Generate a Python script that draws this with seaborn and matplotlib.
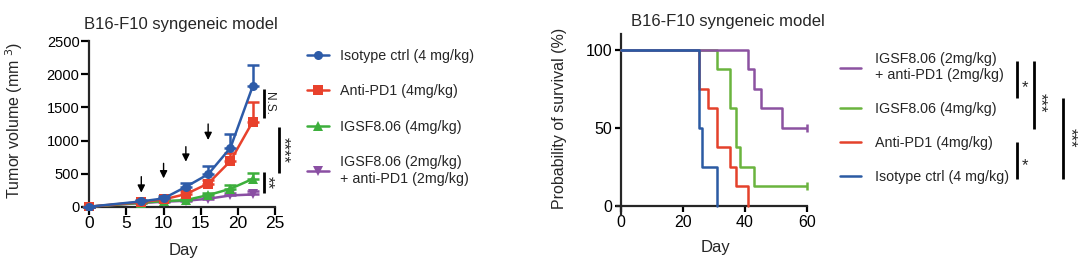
import matplotlib
matplotlib.use("Agg")
import matplotlib.pyplot as plt
import seaborn as sns
import pandas as pd
import numpy as np

# ---------------- data ----------------
days = [0, 7, 10, 13, 16, 19, 22]
groups = ["Isotype ctrl (4 mg/kg)", "Anti-PD1 (4mg/kg)", "IGSF8.06 (4mg/kg)",
          "IGSF8.06 (2mg/kg)\n+ anti-PD1 (2mg/kg)"]
iso_mean = [0, 80, 125, 300, 490, 890, 1820]
iso_err = [0, 25, 30, 60, 125, 215, 320]
pd1_mean = [0, 70, 110, 190, 350, 690, 1285]
pd1_err = [0, 20, 25, 40, 50, 125, 290]
igsf_mean = [0, 60, 85, 100, 175, 270, 420]
igsf_err = [0, 15, 15, 20, 30, 60, 95]
combo_mean = [0, 55, 75, 90, 120, 170, 185]
combo_err = [0, 15, 15, 15, 20, 30, 55]
dose_days = [7, 10, 13, 16]
dose_arrow_top = [454, 655, 907, 1250]
dose_arrow_tip = [212, 428, 680, 1008]

surv_groups = ["IGSF8.06 (2mg/kg)\n+ anti-PD1 (2mg/kg)", "IGSF8.06 (4mg/kg)",
               "Anti-PD1 (4mg/kg)", "Isotype ctrl (4 mg/kg)"]
iso_surv_t = [0, 25, 26, 31]
iso_surv_p = [100, 50, 25, 0]
pd1_surv_t = [0, 25, 28, 31, 35, 37, 41]
pd1_surv_p = [100, 75, 62.5, 37.5, 25, 12.5, 0]
igsf_surv_t = [0, 31, 35, 37, 38.5, 43, 60]
igsf_surv_p = [100, 87.5, 62.5, 37.5, 25, 12.5, 12.5]
combo_surv_t = [0, 41, 43, 45, 52, 60]
combo_surv_p = [100, 87.5, 75, 62.5, 50, 50]

colors_l = ["#2D5BA8", "#E8412C", "#3DAF3C", "#8A4FA3"]
colors_r = {"Isotype ctrl (4 mg/kg)": "#2B5AA3", "Anti-PD1 (4mg/kg)": "#E4412B",
            "IGSF8.06 (4mg/kg)": "#6AB43E",
            "IGSF8.06 (2mg/kg)\n+ anti-PD1 (2mg/kg)": "#8C52A1"}

sns.set_theme(style="ticks")
plt.rcParams["font.family"] = ["Liberation Sans", "DejaVu Sans"]
plt.rcParams["axes.linewidth"] = 1.6

W, H = 1080, 268
fig = plt.figure(figsize=(W / 100, H / 100), dpi=100)

def px_axes(x0, x1, y0, y1):
    return fig.add_axes([x0 / W, 1 - y1 / H, (x1 - x0) / W, (y1 - y0) / H])

# ---------------- left: tumor volume ----------------
L0, L1, T0, T1 = 82.6, 275, 41.3, 210
ax1 = px_axes(L0, L1, T0, T1)
means = [iso_mean, pd1_mean, igsf_mean, combo_mean]
errs = [iso_err, pd1_err, igsf_err, combo_err]
markers = ["o", "s", "^", "v"]
rows = []
for g, m in zip(groups, means):
    for d, v in zip(days, m):
        rows.append({"Day": d, "Volume": v, "Group": g})
df = pd.DataFrame(rows)
order_draw = [3, 2, 1, 0]
for i in order_draw:
    sub = df[df.Group == groups[i]]
    ax1.errorbar(days, means[i], yerr=[np.zeros(len(days)), errs[i]], fmt="none",
                 ecolor=colors_l[i], elinewidth=1.8, capsize=4, capthick=1.8, zorder=2 + (3 - i))
    sns.lineplot(data=sub, x="Day", y="Volume", ax=ax1, color=colors_l[i], marker=markers[i],
                 markersize=6.5, markeredgewidth=0, linewidth=1.8, label=groups[i],
                 estimator=None, zorder=3 + (3 - i))
for d, top, tip in zip(dose_days, dose_arrow_top, dose_arrow_tip):
    ax1.annotate("", xy=(d, tip), xytext=(d, top),
                 arrowprops=dict(arrowstyle="-|>", color="black", lw=1.0, mutation_scale=11,
                                 shrinkA=0, shrinkB=0))
ax1.set_xlim(-0.9, 25)
ax1.set_ylim(-50, 2500)
ax1.spines["left"].set_position(("data", 0))
ax1.spines["bottom"].set_position(("data", 0))
ax1.spines[["top", "right"]].set_visible(False)
ax1.set_xticks([0, 5, 10, 15, 20, 25])
ax1.set_yticks([0, 500, 1000, 1500, 2000, 2500])
ax1.tick_params(width=1.6, length=5.5, colors="black", pad=1.5)
ax1.tick_params(axis="x", labelsize=12.5)
ax1.tick_params(axis="y", labelsize=10.5)
ax1.set_xlabel("Day", fontsize=12)
ax1.set_ylabel("Tumor volume (mm $^{3}$)", fontsize=11.5)
ax1.yaxis.set_label_coords((25 - L0) / (L1 - L0), 0.533)
ax1.xaxis.set_label_coords((183 - L0) / (L1 - L0), (T1 - 243) / (T1 - T0))
ax1.set_title("B16-F10 syngeneic model", fontsize=12, pad=9, x=(181 - L0) / (L1 - L0))

# significance brackets (left)
def vbar(ax, x, y0, y1, **kw):
    ax.plot([x, x], [y0, y1], color="black", lw=2, clip_on=False, solid_capstyle="butt", **kw)

vbar(ax1, 23.5, 1336, 1774)
ax1.text(23.4, 1555, "N.S.", rotation=270, ha="left", va="center", fontsize=8.5, clip_on=False)
vbar(ax1, 25.5, 504, 1200)
ax1.text(25.1, 857, "****", rotation=270, ha="left", va="center", fontsize=12, clip_on=False)
vbar(ax1, 23.5, 200, 520)
ax1.text(22.95, 363, "**", rotation=270, ha="left", va="center", fontsize=12, clip_on=False)

h, l = ax1.get_legend_handles_labels()
hl = dict(zip(l, h))
ax1.legend([hl[g] for g in groups], groups, loc="upper left",
           bbox_to_anchor=(307 / W, 1 - 49 / H), bbox_transform=fig.transFigure,
           frameon=False, fontsize=10.3, handlelength=1.55, handletextpad=0.75,
           labelspacing=1.5, borderpad=0, borderaxespad=0)

# ---------------- right: survival ----------------
R0, R1, S0, S1 = 617, 807, 34.3, 215
ax2 = px_axes(R0, R1, S0, S1)
st = {"Isotype ctrl (4 mg/kg)": (iso_surv_t, iso_surv_p),
      "Anti-PD1 (4mg/kg)": (pd1_surv_t, pd1_surv_p),
      "IGSF8.06 (4mg/kg)": (igsf_surv_t, igsf_surv_p),
      "IGSF8.06 (2mg/kg)\n+ anti-PD1 (2mg/kg)": (combo_surv_t, combo_surv_p)}
srows = []
for g, (t, p) in st.items():
    for a, b in zip(t, p):
        srows.append({"Day": a, "Surv": b, "Group": g})
sdf = pd.DataFrame(srows)
draw_order = ["Anti-PD1 (4mg/kg)", "IGSF8.06 (4mg/kg)",
              "IGSF8.06 (2mg/kg)\n+ anti-PD1 (2mg/kg)", "Isotype ctrl (4 mg/kg)"]
for k, g in enumerate(draw_order):
    sub = sdf[sdf.Group == g]
    sns.lineplot(data=sub, x="Day", y="Surv", ax=ax2, color=colors_r[g], linewidth=1.8,
                 drawstyle="steps-post", estimator=None, label=g, zorder=3 + k)
    t, p = st[g]
    if t[-1] == 60:
        ax2.plot([60], [p[-1]], marker="|", color=colors_r[g], markersize=6, mew=1.8,
                 clip_on=False, zorder=3 + k)
ax2.set_xlim(-1.3, 60)
ax2.set_ylim(-6, 110)
ax2.spines["left"].set_position(("data", 0))
ax2.spines["bottom"].set_position(("data", 0))
ax2.spines[["top", "right"]].set_visible(False)
ax2.set_xticks([0, 20, 40, 60])
ax2.set_yticks([0, 50, 100])
ax2.tick_params(labelsize=11.5, width=1.6, length=4.5, colors="black", pad=2)
ax2.set_xlabel("Day", fontsize=12)
ax2.set_ylabel("Probability of survival (%)", fontsize=11.5)
ax2.yaxis.set_label_coords((567 - R0) / (R1 - R0), 0.5 + (124.6 - 118) / (S1 - S0))
ax2.xaxis.set_label_coords((715 - R0) / (R1 - R0), (S1 - 240) / (S1 - S0))
ax2.set_title("B16-F10 syngeneic model", fontsize=12, pad=6, x=(728 - R0) / (R1 - R0))

vbar(ax2, 127.7, 68.8, 92.7)
ax2.text(129.3, 76, "*", ha="left", va="center", fontsize=12, clip_on=False)
vbar(ax2, 133.2, 48.9, 92.7)
ax2.text(132.7, 66, "***", rotation=270, ha="left", va="center", fontsize=12, clip_on=False)
vbar(ax2, 127.7, 17.2, 41.1)
ax2.text(129.3, 26, "*", ha="left", va="center", fontsize=12, clip_on=False)
vbar(ax2, 142.6, 17.2, 68.8)
ax2.text(142.4, 43.7, "***", rotation=270, ha="left", va="center", fontsize=12, clip_on=False)

h2, l2 = ax2.get_legend_handles_labels()
hl2 = dict(zip(l2, h2))
ax2.legend([hl2[g] for g in surv_groups], surv_groups, loc="upper left",
           bbox_to_anchor=(840 / W, 1 - 52 / H), bbox_transform=fig.transFigure,
           frameon=False, fontsize=10.3, handlelength=1.45, handletextpad=1.0,
           labelspacing=1.4, borderpad=0, borderaxespad=0)

fig.savefig("out.png", dpi=100)
